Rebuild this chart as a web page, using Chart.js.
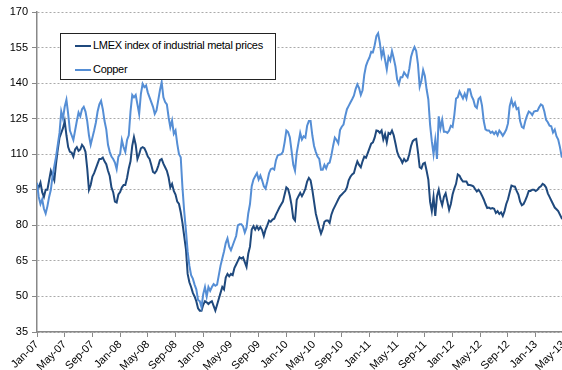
<!DOCTYPE html>
<html>
<head>
<meta charset="utf-8">
<script src="https://cdn.jsdelivr.net/npm/chart.js@4.4.0/dist/chart.umd.min.js"></script>
<style>
  html, body { margin: 0; padding: 0; background: #fff; overflow: hidden; }
  #wrap { position: relative; width: 562px; height: 370px; overflow: hidden; }
  #grafico { position: absolute; left: 0; top: 0; }
  #legenda {
    position: absolute; left: 60px; top: 33px; width: 214px; height: 45px;
    border: 1.5px solid #222; background: #fff;
    font: 11px "Liberation Sans", Arial, sans-serif; color: #000; letter-spacing: -0.3px;
  }
  .item { position: absolute; left: 14px; height: 14px; line-height: 14px; white-space: nowrap; }
  .item span { display: inline-block; width: 16px; height: 2px; vertical-align: middle; margin-right: 2px; }
</style>
</head>
<body>
<div id="wrap">
  <canvas id="grafico" width="566" height="370"></canvas>
  <div id="legenda">
    <div class="item" style="top:4px"><span style="background:#1F497D"></span>LMEX index of industrial metal prices</div>
    <div class="item" style="top:28px"><span style="background:#558ED5"></span>Copper</div>
  </div>
</div>
<script>
// one point per quarter month, Jan-07 = 0
const passo = 0.25;

const tickLabels = ["Jan-07", "May-07", "Sep-07", "Jan-08", "May-08", "Sep-08", "Jan-09", "May-09",
  "Sep-09", "Jan-10", "May-10", "Sep-10", "Jan-11", "May-11", "Sep-11", "Jan-12", "May-12",
  "Sep-12", "Jan-13", "May-13"];

const lmex = [
  // 2007
  97, 96, 98, 94, 92, 95, 95, 99, 103, 101, 99, 106, 112, 117, 119, 121, 124, 118, 113, 111, 110.7, 109, 112, 113,
  111.4, 112, 114, 113, 111, 104, 95, 97, 100.6, 102, 104, 106, 108, 108, 108.6, 107, 105.8, 103, 100.8, 96, 94, 90, 89.6, 93,
  // 2008
  94, 96, 97, 97, 100, 104, 107, 113.5, 117.2, 114, 108, 110, 112.5, 113, 112.5, 111, 109, 108, 105.5, 102.5, 102, 103, 105, 107.5,
  108, 106, 104.5, 103, 100.3, 96, 97.5, 94.5, 93, 90, 89, 85.5, 81, 75.5, 70, 59.5, 56, 54, 51.5, 50, 48, 45, 44, 44,
  // 2009
  46.5, 48, 47.5, 46.8, 47.5, 48, 46, 44, 46.5, 49, 51.5, 54, 53, 58, 59.5, 58.5, 59.5, 59, 62, 63.5, 65, 66.5, 66, 66.5,
  64.5, 62.5, 68, 71, 78.2, 79.6, 78.2, 79.6, 78.2, 79.3, 78, 75.5, 78.2, 80, 82, 81.5, 82.4, 82.8, 84.5, 86, 87.5, 88.8, 90, 93,
  // 2010
  96, 95.3, 92.5, 88.5, 83, 82, 90.8, 92.3, 93.7, 92.3, 93.7, 95.5, 98.5, 100, 99, 95, 90, 85, 82, 79, 76.5, 78.5, 81.5, 82,
  82, 81, 84.5, 86.5, 88, 89.5, 91, 92.3, 93, 93.8, 94.5, 96, 99, 100.5, 101.5, 102, 104.7, 107, 105.5, 104.5, 107, 109, 108.5, 110.5,
  // 2011
  112.5, 114.5, 115, 117, 120, 119.8, 119, 120, 116.2, 118.5, 115, 119, 118.5, 120, 118, 114.6, 111, 109, 108, 106.4, 108, 107, 107.5, 110,
  113.5, 115.5, 116.2, 116.5, 111, 104.5, 104, 106, 106.4, 103, 99.3, 90, 86, 92, 84, 92.3, 95, 91, 88.5, 92, 93.5, 90, 86.5, 89,
  // 2012
  93, 95.5, 97.5, 101.5, 101, 99.5, 98.5, 98.5, 98.5, 97, 97, 96.8, 96.5, 95.3, 94.3, 95, 94, 92.5, 90.9, 89, 87.3, 87.5, 87, 87.3,
  87, 85.2, 86, 84.8, 85.5, 84, 86, 89, 91, 94, 96.8, 96.5, 96.3, 94.5, 93, 90, 88.5, 89, 90.5, 92.3, 94.5, 94.5, 95, 95,
  // 2013
  94.5, 95, 96, 96.5, 97.5, 97, 96, 93.5, 92, 90.5, 89, 87.5, 86.8, 86, 84.5, 83, 82.4
];

const copper = [
  // 2007
  98, 92, 89, 91, 87, 85, 88, 92, 95, 101, 105, 109, 114, 119, 128, 125, 130, 133, 127, 120, 118, 116, 120, 124,
  127.6, 126, 129, 130, 128, 124, 118, 114, 117, 120, 123.4, 128, 131, 132.5, 129, 124, 120.5, 114, 111, 109, 108, 106.5, 103.7, 109,
  // 2008
  110, 116, 113, 111, 116, 118, 128, 135, 134, 135, 131, 127, 135.5, 139.7, 138.3, 139, 136, 134, 132, 130, 127, 128.5, 132.7, 137,
  140.4, 134, 132, 131, 125.6, 121.4, 124.2, 118.6, 120, 114.4, 110, 108.7, 96, 86, 78, 69, 63, 59, 57.5, 55, 53, 48.5, 48, 45.5,
  // 2009
  51, 54, 50, 54, 52.4, 54, 55.2, 54.5, 55, 59, 63, 66, 69, 72.5, 74.5, 71, 69.5, 71.5, 73.5, 75.5, 80, 80.5, 80.5, 79.5,
  77, 79, 85, 89, 96.5, 99.3, 100.7, 102, 99.3, 101, 99, 96.5, 95.5, 98.5, 102, 103.7, 104, 103.5, 107.5, 109.5, 109.8, 110, 111, 115,
  // 2010
  120, 119.3, 117.2, 111.5, 105.5, 103, 110.6, 114.8, 119, 116.2, 117.6, 117, 122, 124, 124, 118, 113.5, 111, 109, 108, 103.5, 103.5, 105.5, 104,
  106, 106.5, 109.5, 113.5, 117, 116, 114.6, 120.2, 121.6, 122.5, 126, 129, 130.4, 131.8, 133.2, 134.7, 137.5, 139.5, 137.9, 135, 137, 143.5, 147.3, 149.3,
  // 2011
  150.8, 153.2, 153, 156, 159.8, 161, 157, 151.2, 154, 149.8, 145.8, 151, 149.5, 153.5, 150.5, 147, 141.5, 139.5, 142.5, 142.5, 144.5, 143.5, 142.5, 146,
  151, 153.5, 155.2, 153.5, 148, 138.5, 141, 145.5, 143, 137.4, 133.1, 122.5, 115.5, 110, 116, 108, 126, 121, 124.5, 119.5, 119.5, 119, 120, 122,
  // 2012
  121.5, 126.5, 133.5, 134, 136.5, 135, 133.5, 135.5, 133.5, 137.4, 137.4, 134.5, 133, 130.2, 129.5, 133.3, 134, 130.5, 124, 120.5, 120, 120, 119, 119.5,
  118.5, 119.5, 118, 120, 119, 117.8, 119, 120.4, 123, 130.3, 133, 130.3, 131.7, 129, 129.5, 124, 121.5, 121, 124, 126.3, 128, 127.5, 126.5, 128,
  // 2013
  128.2, 128.3, 129.8, 131, 130.5, 128, 124.5, 123.5, 122, 121.8, 119.2, 120.4, 117.6, 116.2, 113, 109, 108.5
];

const fonte = { family: "'Liberation Sans', Arial, sans-serif", size: 11 };

new Chart(document.getElementById("grafico").getContext("2d"), {
  type: "line",
  data: {
    datasets: [{
      label: "LMEX index of industrial metal prices",
      data: lmex.map((v, i) => ({ x: i * passo, y: v })),
      borderColor: "#1F497D",
      order: 1
    }, {
      label: "Copper",
      data: copper.map((v, i) => ({ x: i * passo, y: v })),
      borderColor: "#558ED5",
      order: 0
    }]
  },
  options: {
    responsive: false,
    animation: false,
    layout: { padding: { top: 12, right: 2.6, bottom: 0, left: 0 } },
    plugins: { legend: { display: false }, tooltip: { enabled: false } },
    elements: {
      point: { radius: 0 },
      line: { borderWidth: 2, tension: 0 }
    },
    scales: {
      x: {
        type: "linear",
        min: 0,
        max: 76,
        ticks: {
          stepSize: 4,
          autoSkip: false,
          minRotation: 45,
          maxRotation: 45,
          padding: 1,
          color: "#000",
          font: fonte,
          callback: (v) => tickLabels[Math.round(v / 4)]
        },
        grid: { drawOnChartArea: false, tickLength: 5, color: "#888" },
        border: { color: "#888", width: 1.5 },
        afterFit: (s) => { s.height = 38; s.paddingLeft = 0; s.paddingRight = 0; }
      },
      y: {
        min: 35,
        max: 170,
        ticks: { stepSize: 15, padding: 4, color: "#000", font: fonte },
        grid: { color: "#aaa", tickColor: "#888", tickLength: 5, tickBorderDash: [] },
        border: { color: "#888", width: 1.5, dash: [2, 2] },
        afterFit: (s) => { s.width = 37; }
      }
    }
  }
});
</script>
</body>
</html>
